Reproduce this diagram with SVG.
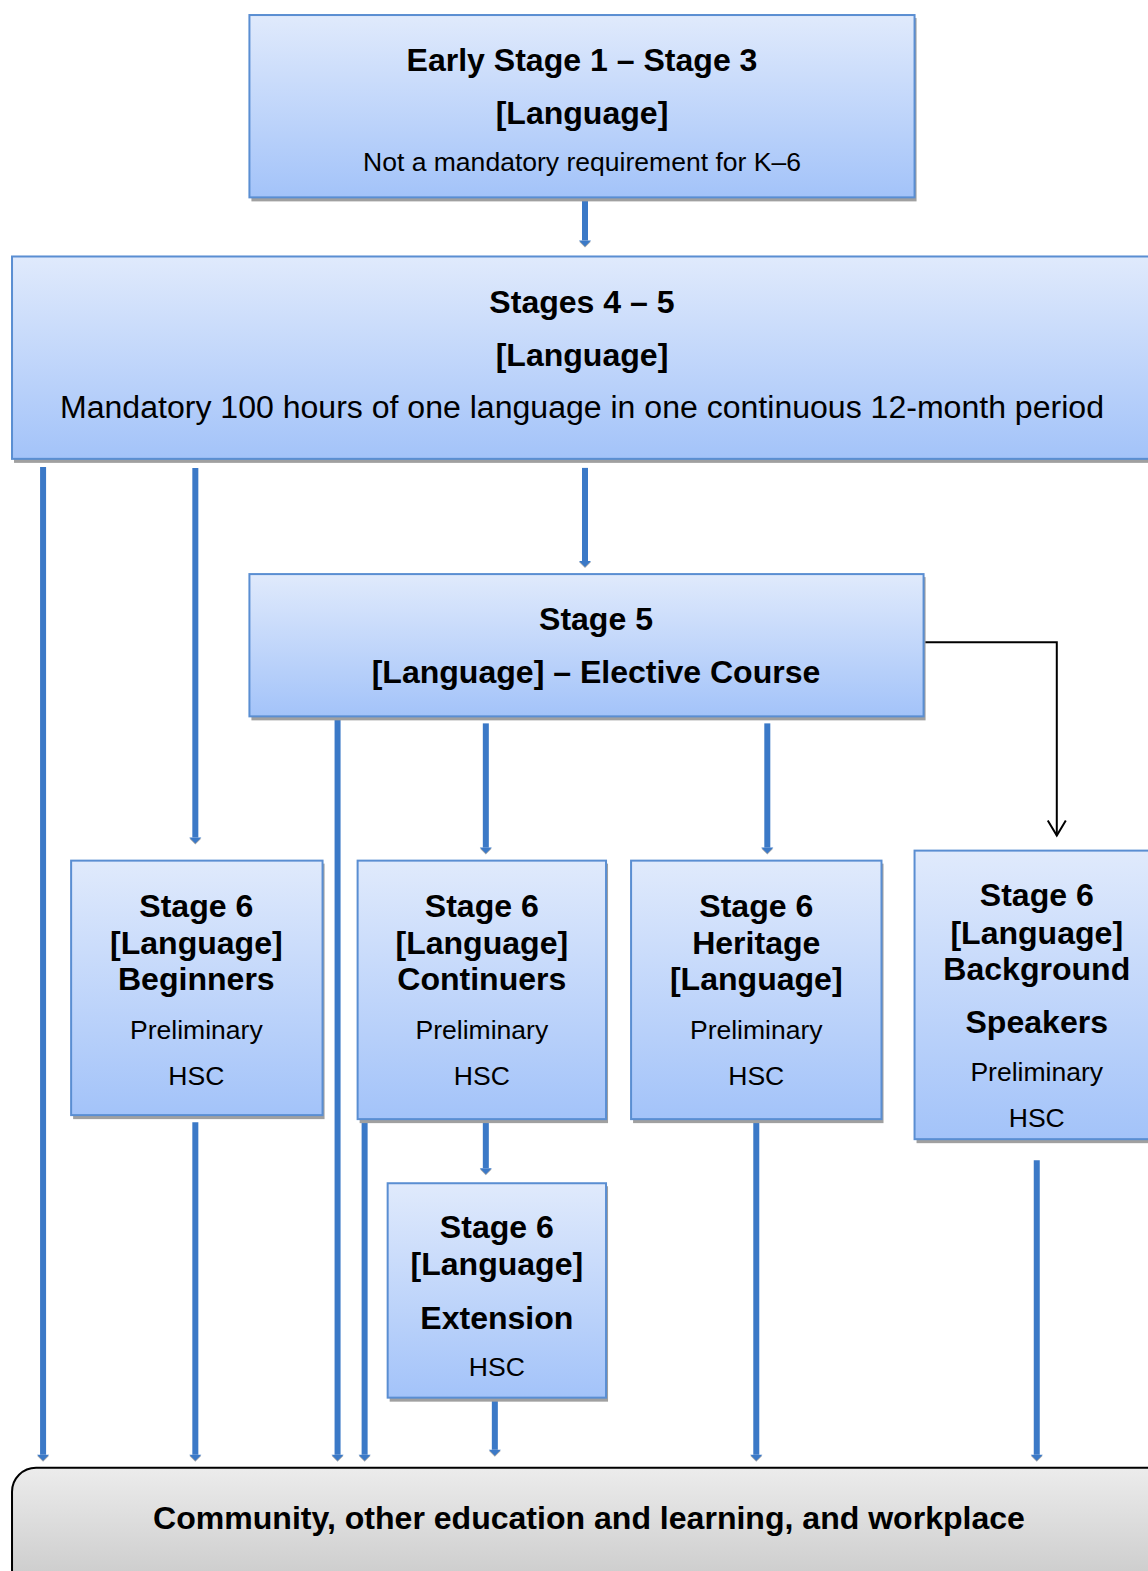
<svg xmlns="http://www.w3.org/2000/svg" width="1148" height="1571" viewBox="0 0 1148 1571">
<style>
.box{fill:url(#bg);stroke:#5a8ed2;stroke-width:2}
.sh{fill:#a0a0a0}
.b{font-family:"Liberation Sans",Arial,sans-serif;font-weight:bold;font-size:32px;text-anchor:middle;fill:#000}
.r{font-family:"Liberation Sans",Arial,sans-serif;font-size:26.5px;text-anchor:middle;fill:#000}
.c{stroke:#3b79c7;stroke-width:6;fill:none;marker-end:url(#ah)}
</style>
<defs>
<linearGradient id="bg" x1="0" y1="0" x2="0" y2="1">
<stop offset="0" stop-color="#e0eafc"/>
<stop offset="1" stop-color="#a3c3f9"/>
</linearGradient>
<linearGradient id="gg" x1="0" y1="0" x2="0" y2="1">
<stop offset="0" stop-color="#ececec"/>
<stop offset="1" stop-color="#c4c4c4"/>
</linearGradient>
<marker id="ah" markerUnits="userSpaceOnUse" markerWidth="14" markerHeight="14" viewBox="-1 -7 10 14" refX="0" refY="0" orient="auto" overflow="visible">
<path d="M1,-6 L7,0 L1,6 z" fill="#a8a8a8"/>
<path d="M0,-6 L6,0 L0,6 z" fill="#3b79c7"/>
</marker>
<marker id="oa" markerUnits="userSpaceOnUse" markerWidth="24" markerHeight="24" viewBox="-20 -12 22 24" refX="0" refY="0" orient="auto" overflow="visible">
<path d="M-15,-9 L0,0 L-15,9" fill="none" stroke="#000" stroke-width="2"/>
</marker>
</defs>
<g transform="scale(1.0017,1.0019)">
<g id="connectors">
<line class="c" x1="584" y1="199" x2="584" y2="240"/>
<line class="c" x1="43" y1="466" x2="43" y2="1452"/>
<line class="c" x1="195" y1="467" x2="195" y2="836"/>
<line class="c" x1="584" y1="467" x2="584" y2="560"/>
<line class="c" x1="337" y1="716" x2="337" y2="1452"/>
<line class="c" x1="485" y1="722" x2="485" y2="846"/>
<line class="c" x1="766" y1="722" x2="766" y2="846"/>
<polyline points="923,641 1055,641 1055,834" fill="none" stroke="#000" stroke-width="2" marker-end="url(#oa)"/>
<line class="c" x1="195" y1="1120" x2="195" y2="1452"/>
<line class="c" x1="364" y1="1120" x2="364" y2="1452"/>
<line class="c" x1="485" y1="1120" x2="485" y2="1166"/>
<line class="c" x1="494" y1="1397" x2="494" y2="1447"/>
<line class="c" x1="755" y1="1120" x2="755" y2="1452"/>
<line class="c" x1="1035" y1="1158" x2="1035" y2="1452"/>
</g>

<g id="n-early">
<rect class="sh" x="251" y="18" width="664" height="183"/>
<rect class="box" x="249" y="15" width="664" height="182"/>
<text class="b" x="581" y="71">Early Stage 1 – Stage 3</text>
<text class="b" x="581" y="124">[Language]</text>
<text class="r" x="581" y="171">Not a mandatory requirement for K–6</text>
</g>

<g id="n-stages45">
<rect class="sh" x="14" y="259" width="1140" height="203"/>
<rect class="box" x="12" y="256" width="1140" height="202"/>
<text class="b" x="581" y="312">Stages 4 – 5</text>
<text class="b" x="581" y="365">[Language]</text>
<text class="r" x="581" y="417" style="font-size:32px">Mandatory 100 hours of one language in one continuous 12-month period</text>
</g>

<g id="n-stage5">
<rect class="sh" x="251" y="576" width="673" height="143"/>
<rect class="box" x="249" y="573" width="673" height="142"/>
<text class="b" x="595" y="629">Stage 5</text>
<text class="b" x="595" y="682">[Language] – Elective Course</text>
</g>

<g id="n-beginners">
<rect class="sh" x="73" y="862" width="251" height="255"/>
<rect class="box" x="71" y="859" width="251" height="254"/>
<text class="b" x="196" y="915">Stage 6</text>
<text class="b" x="196" y="952">[Language]</text>
<text class="b" x="196" y="988">Beginners</text>
<text class="r" x="196" y="1037">Preliminary</text>
<text class="r" x="196" y="1083">HSC</text>
</g>

<g id="n-continuers">
<rect class="sh" x="359" y="862" width="248" height="259"/>
<rect class="box" x="357" y="859" width="248" height="258"/>
<text class="b" x="481" y="915">Stage 6</text>
<text class="b" x="481" y="952">[Language]</text>
<text class="b" x="481" y="988">Continuers</text>
<text class="r" x="481" y="1037">Preliminary</text>
<text class="r" x="481" y="1083">HSC</text>
</g>

<g id="n-heritage">
<rect class="sh" x="632" y="862" width="250" height="259"/>
<rect class="box" x="630" y="859" width="250" height="258"/>
<text class="b" x="755" y="915">Stage 6</text>
<text class="b" x="755" y="952">Heritage</text>
<text class="b" x="755" y="988">[Language]</text>
<text class="r" x="755" y="1037">Preliminary</text>
<text class="r" x="755" y="1083">HSC</text>
</g>

<g id="n-background">
<rect class="sh" x="915" y="852" width="240" height="289"/>
<rect class="box" x="913" y="849" width="240" height="288"/>
<text class="b" x="1035" y="904">Stage 6</text>
<text class="b" x="1035" y="942">[Language]</text>
<text class="b" x="1035" y="978">Background</text>
<text class="b" x="1035" y="1031">Speakers</text>
<text class="r" x="1035" y="1079">Preliminary</text>
<text class="r" x="1035" y="1125">HSC</text>
</g>

<g id="n-extension">
<rect class="sh" x="389" y="1184" width="218" height="215"/>
<rect class="box" x="387" y="1181" width="218" height="214"/>
<text class="b" x="496" y="1236">Stage 6</text>
<text class="b" x="496" y="1273">[Language]</text>
<text class="b" x="496" y="1326">Extension</text>
<text class="r" x="496" y="1373">HSC</text>
</g>

<g id="n-community">
<rect x="12" y="1465" width="1160" height="140" rx="24" fill="url(#gg)" stroke="#000" stroke-width="2"/>
<text class="b" x="588" y="1526">Community, other education and learning, and workplace</text>
</g>
</g>
</svg>
